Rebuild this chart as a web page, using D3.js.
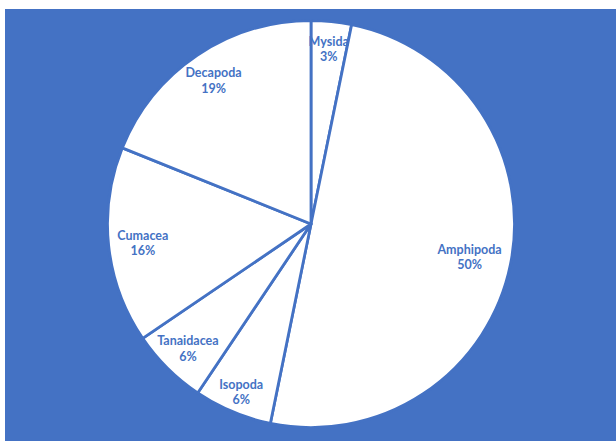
<!DOCTYPE html>
<html><head><meta charset="utf-8">
<script src="https://cdn.jsdelivr.net/npm/d3@7"></script>
<style>html,body{margin:0;padding:0;background:#fff;}svg{display:block;}</style>
</head><body>
<svg id="c" width="616" height="441"></svg>
<script>
const categories = ["Mysida","Amphipoda","Isopoda","Tanaidacea","Cumacea","Decapoda"];
const values = [3.2, 50.0, 6.2, 6.1, 15.6, 18.9];

const W = 616, H = 441;
const blue = "#4472C4";
const svg = d3.select("#c");
svg.append("rect").attr("x",5).attr("y",9).attr("width",W-5).attr("height",H-9).attr("fill",blue);

const cx = 311, cy = 224, R = 203.5;
const g = svg.append("g").attr("transform",`translate(${cx},${cy})`);
const data = categories.map((c,i)=>({name:c, value:values[i]}));
const pie = d3.pie().value(d=>d.value).sort(null);
const arcs = pie(data);
const arc = d3.arc().innerRadius(0).outerRadius(R);
g.selectAll("path").data(arcs).join("path")
  .attr("d",arc).attr("fill","#fff").attr("stroke",blue).attr("stroke-width",2.8).attr("stroke-linejoin","round");

const total = d3.sum(values);
const lr = [0.869,0.795,0.89,0.858,0.831,0.856];
const lab = g.selectAll("text").data(arcs).join("text")
  .attr("transform",(d,i)=>{const a=(d.startAngle+d.endAngle)/2, r=R*lr[i];return `translate(${r*Math.sin(a)},${-r*Math.cos(a)})`;})
  .attr("text-anchor","middle").attr("font-family","Lato, 'Open Sans', sans-serif")
  .attr("font-weight","bold").attr("font-size","12.5px").attr("fill",blue);
lab.append("tspan").attr("x",0).attr("y",-2.5).text(d=>d.data.name);
lab.append("tspan").attr("x",0).attr("y",13.2).text(d=>Math.round(d.data.value/total*100)+"%");
</script>
</body></html>
